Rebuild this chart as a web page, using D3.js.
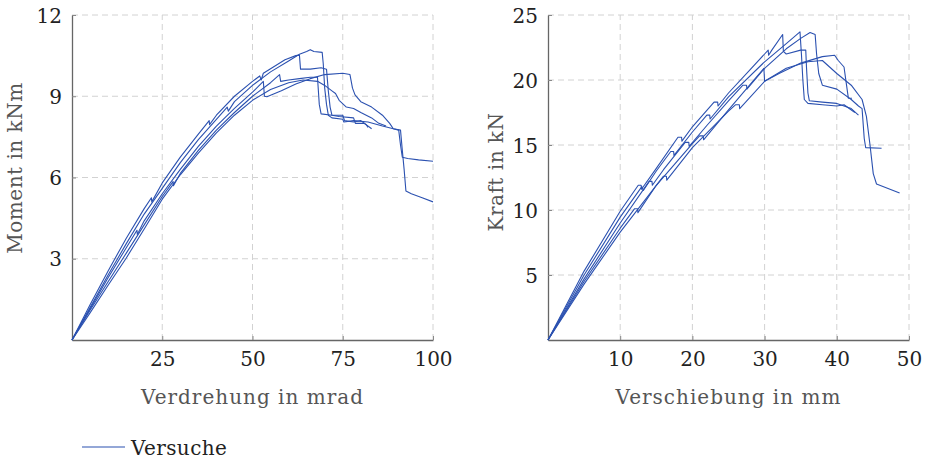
<!DOCTYPE html>
<html>
<head>
<meta charset="utf-8">
<script src="https://cdn.jsdelivr.net/npm/d3@7"></script>
<style>
  html, body { margin: 0; padding: 0; background: #fff; }
  svg { display: block; }
  text { font-family: "DejaVu Serif", serif; }
</style>
</head>
<body>
<svg id="chart" width="925" height="460"></svg>
<script>
// Torsion tests: moment (kNm) vs. twist angle (mrad)
const twistTest1 = [[0,0],[5,1.3],[10,2.55],[15,3.75],[20,4.85],[22,5.25],[22.1,5.1],[25,5.8],[30,6.75],[35,7.6],[38,8.1],[38.1,7.95],[40,8.3],[45,9.0],[50,9.55],[52,9.75],[52.4,9.6],[53,9.85],[56,10.1],[59,10.35],[62,10.5],[63,10.52],[63.3,10.0],[66,10.0],[69,10.05],[70.5,10.0],[71,9.2],[71.5,8.6],[72,8.3],[74,8.25],[78,8.2],[78.5,8.0],[81,8.0],[83,7.8]];
const twistTest2 = [[0,0],[5,1.2],[10,2.4],[15,3.55],[20,4.65],[25,5.6],[30,6.55],[35,7.4],[40,8.15],[43,8.6],[43.3,8.45],[45,8.8],[50,9.4],[55,9.9],[60,10.3],[63,10.55],[65,10.65],[66,10.72],[67,10.65],[69.3,10.62],[69.6,10.2],[70,9.3],[70.5,8.7],[71,8.3],[72,8.2],[75,8.15],[75.3,8.05],[78,8.1],[82,8.05],[86,7.9],[89,7.8],[91,7.75],[91.5,7.0],[92,6.3],[92.5,5.5],[94,5.4],[97,5.25],[100,5.1]];
const twistTest3 = [[0,0],[5,1.15],[10,2.3],[15,3.4],[18,4.05],[18.1,3.9],[20,4.4],[25,5.4],[30,6.3],[35,7.15],[40,7.9],[45,8.55],[50,9.15],[53,9.55],[53.3,9.0],[54,8.98],[58,9.2],[62,9.45],[66,9.65],[70,9.8],[75,9.85],[77,9.8],[77.7,9.3],[78.4,9.05],[80,8.8],[83,8.6],[86,8.3],[88,8.0],[89,7.8],[90.5,7.75],[91,7.2],[91.5,6.75],[93,6.7],[96,6.65],[100,6.6]];
const twistTest4 = [[0,0],[5,1.1],[10,2.15],[15,3.2],[20,4.25],[25,5.3],[28,5.85],[28.1,5.7],[30,6.15],[35,7.0],[40,7.75],[45,8.4],[50,9.0],[55,9.5],[57.5,9.8],[57.8,9.55],[60,9.6],[63,9.65],[66,9.7],[68,9.7],[68.5,8.7],[69,8.35],[72,8.3],[75,8.3],[75.5,8.1],[78,8.05],[80,8.1],[81.5,7.95],[82,7.85]];
const twistTest5 = [[0,0],[5,1.0],[10,2.02],[15,3.02],[20,4.1],[25,5.2],[30,6.1],[35,6.9],[40,7.65],[45,8.3],[50,8.85],[55,9.25],[60,9.5],[64,9.6],[68,9.55],[70,9.4],[72,9.2],[73,9.1],[74,8.85],[76,8.6],[78,8.55],[80,8.4],[83,8.2],[85,8.0],[87,7.9]];

// Bending tests: force (kN) vs. displacement (mm)
const bendTest1 = [[0,0],[5,5.3],[10,9.9],[12.5,11.9],[12.9,11.9],[12.95,11.6],[15,13.2],[18,15.6],[18.5,15.6],[18.55,15.3],[20,16.4],[23,18.3],[23.5,18.3],[23.55,18.0],[25,19.0],[28,20.8],[30,22.0],[30.5,22.3],[30.55,21.9],[31,22.3],[32.5,23.5],[32.6,22.2],[33,22.0],[35,22.3],[35.7,22.3],[35.8,21.0],[36,19.0],[36.2,18.4],[38,18.3],[40,18.2],[41,18.0],[42,17.8],[43,17.3]];
const bendTest2 = [[0,0],[5,5.0],[10,9.45],[13,11.8],[13.2,11.5],[15,13.0],[17,14.5],[17.4,14.5],[17.45,14.2],[20,16.0],[22,17.3],[22.4,17.3],[22.45,17.0],[25,18.7],[30,21.4],[33,22.8],[34.9,23.7],[35.1,22.0],[35.3,20.0],[35.5,18.5],[36,18.2],[38,18.1],[40,18.0],[41,18.1],[42.5,17.5]];
const bendTest3 = [[0,0],[5,4.7],[10,9.0],[14,12.2],[14.4,12.2],[14.45,11.9],[16,13.1],[19,15.2],[19.5,15.2],[19.55,14.9],[22,16.5],[25,18.4],[27,19.6],[27.5,19.6],[27.55,19.3],[30,20.9],[33,22.4],[35,23.2],[36.3,23.65],[37,23.5],[37.2,22.0],[37.5,20.5],[38,19.6],[40,19.3],[42,18.5],[43,18.0],[43.5,17.8],[43.8,15.5],[44,14.8],[46.2,14.75]];
const bendTest4 = [[0,0],[5,4.5],[10,8.6],[12,10.1],[12.4,10.1],[12.45,9.8],[15,11.9],[20,15.1],[21,15.7],[21.5,15.7],[21.55,15.4],[25,17.7],[29.9,20.9],[30.0,19.9],[32,20.5],[35,21.3],[38,21.8],[39.7,21.9],[40.2,21.5],[41,21.0],[41.3,19.8],[41.6,18.6],[42.1,18.6]];
const bendTest5 = [[0,0],[5,4.3],[10,8.3],[15,11.9],[16,12.6],[16.4,12.6],[16.45,12.3],[20,14.8],[25,17.6],[26,18.1],[26.5,18.1],[26.55,17.8],[30,19.9],[33,20.9],[36,21.4],[38,21.5],[39,21.0],[40,20.5],[42,19.6],[43.5,18.5],[44.1,17.2],[44.6,15.0],[45.05,12.8],[45.5,12.0],[48.7,11.3]];

const twistTicks = [25, 50, 75, 100];
const momentTicks = [3, 6, 9, 12];
const shiftTicks = [10, 20, 30, 40, 50];
const forceTicks = [5, 10, 15, 20, 25];

const lineColor = "#2b51b0";
const fontSize = 20;
const svg = d3.select("#chart");

function panel(opt) {
  const x = d3.scaleLinear().domain(opt.xDomain).range([opt.left, opt.right]);
  const y = d3.scaleLinear().domain(opt.yDomain).range([opt.bottom, opt.top]);
  const g = svg.append("g");

  // dashed grid
  g.append("g").selectAll("line").data(opt.xTicks).join("line")
    .attr("x1", d => x(d)).attr("x2", d => x(d))
    .attr("y1", opt.bottom).attr("y2", opt.top)
    .attr("stroke", "#d2d2d2").attr("stroke-width", 1).attr("stroke-dasharray", "6,4");
  g.append("g").selectAll("line").data(opt.yTicks).join("line")
    .attr("x1", opt.left).attr("x2", opt.right)
    .attr("y1", d => y(d)).attr("y2", d => y(d))
    .attr("stroke", "#d2d2d2").attr("stroke-width", 1).attr("stroke-dasharray", "6,4");

  // axes
  const xAxis = d3.axisBottom(x).tickValues(opt.xTicks).tickSizeInner(-4).tickSizeOuter(0).tickPadding(12);
  const yAxis = d3.axisLeft(y).tickValues(opt.yTicks).tickSizeInner(-4).tickSizeOuter(0).tickPadding(10);
  const gx = g.append("g").attr("transform", `translate(0,${opt.bottom})`).call(xAxis);
  const gy = g.append("g").attr("transform", `translate(${opt.left},0)`).call(yAxis);
  [gx, gy].forEach(a => {
    a.select(".domain").attr("stroke", "#666").attr("stroke-width", 1.3);
    a.selectAll(".tick line").attr("stroke", "#888");
    a.selectAll(".tick text").attr("font-size", fontSize).attr("fill", "#222")
      .attr("font-family", "DejaVu Serif, serif");
  });
  gx.selectAll(".tick text").attr("dy", "0.71em");
  gy.selectAll(".tick text").attr("dy", "0.36em");

  // test curves
  const line = d3.line().x(d => x(d[0])).y(d => y(d[1]));
  g.append("g").selectAll("path").data(opt.series).join("path")
    .attr("d", line).attr("fill", "none")
    .attr("stroke", lineColor).attr("stroke-width", 1.1).attr("stroke-linejoin", "round");

  // axis titles
  g.append("text").attr("x", (opt.left + opt.right) / 2).attr("y", 404)
    .attr("text-anchor", "middle").attr("font-size", fontSize).attr("fill", "#555")
    .attr("letter-spacing", 1)
    .text(opt.xTitle);
  g.append("text")
    .attr("transform", `translate(${opt.yTitleX},${opt.yTitleY}) rotate(-90)`)
    .attr("text-anchor", "middle").attr("font-size", fontSize).attr("fill", "#555")
    .attr("letter-spacing", 0.5)
    .text(opt.yTitle);
}

panel({
  left: 72, right: 433, top: 15, bottom: 340,
  xDomain: [0, 100], yDomain: [0, 12],
  xTicks: twistTicks, yTicks: momentTicks,
  series: [twistTest1, twistTest2, twistTest3, twistTest4, twistTest5],
  xTitle: "Verdrehung in mrad",
  yTitle: "Moment in kNm", yTitleX: 22, yTitleY: 168
});

panel({
  left: 548, right: 909, top: 15, bottom: 340,
  xDomain: [0, 50], yDomain: [0, 25],
  xTicks: shiftTicks, yTicks: forceTicks,
  series: [bendTest1, bendTest2, bendTest3, bendTest4, bendTest5],
  xTitle: "Verschiebung in mm",
  yTitle: "Kraft in kN", yTitleX: 503, yTitleY: 172
});

// legend
const legend = svg.append("g");
legend.append("line").attr("x1", 82).attr("x2", 125).attr("y1", 447).attr("y2", 447)
  .attr("stroke", lineColor).attr("stroke-width", 1.1);
legend.append("text").attr("x", 131).attr("y", 455).attr("font-size", fontSize).attr("fill", "#222")
  .attr("letter-spacing", 0.4)
  .text("Versuche");
</script>
</body>
</html>
